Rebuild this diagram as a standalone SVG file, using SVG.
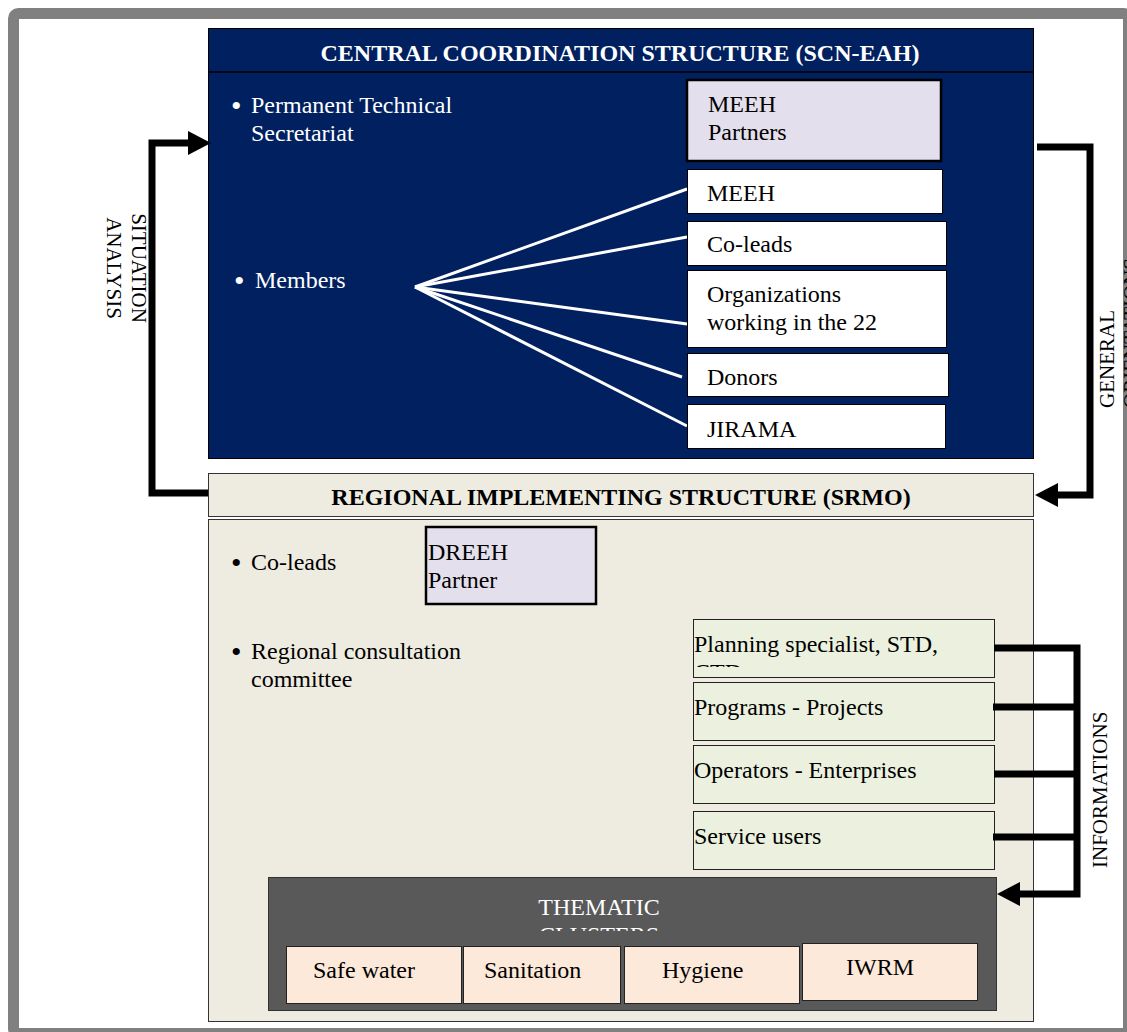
<svg xmlns="http://www.w3.org/2000/svg" width="1127" height="1032" viewBox="0 0 1127 1032">
<defs>
<style>
text{font-family:"Liberation Serif","Times New Roman",serif;font-size:24px;fill:#000}
.w{fill:#fff}
.b{font-weight:bold}
.bul{font-size:30px}
.rot{font-size:21px}
.box{stroke:#000;stroke-width:1}
.white{fill:#fff}
.lav{fill:#e4dfec;stroke:#000;stroke-width:2.5}
.green{fill:#ebf1de;stroke:#222;stroke-width:1}
.peach{fill:#fde9d9;stroke:#222;stroke-width:1}
.conn{fill:none;stroke:#000;stroke-width:7}
.mem{stroke:#fff;stroke-width:3}
</style>
<marker id="ah" markerUnits="userSpaceOnUse" markerWidth="24" markerHeight="24" refX="1" refY="12" orient="auto">
<path d="M0,0 L23,12 L0,24 z" fill="#000"/>
</marker>
<clipPath id="cpPlan"><rect x="693" y="619" width="301" height="48"/></clipPath>
<clipPath id="cpThem"><rect x="268" y="877" width="728" height="54"/></clipPath>
</defs>

<rect x="13.5" y="13.5" width="1115" height="1020" rx="5" fill="#fff" stroke="#808080" stroke-width="11"/>

<g id="central">
<rect x="208.5" y="28.5" width="825" height="430" fill="#002060" stroke="#000"/>
<line x1="208.5" y1="72" x2="1033.5" y2="72" stroke="#000" stroke-width="1.5"/>
<text class="w b" x="620" y="61" text-anchor="middle">CENTRAL COORDINATION STRUCTURE (SCN-EAH)</text>
<text class="w bul" x="231" y="116">•</text>
<text class="w" x="251" y="113">Permanent Technical</text>
<text class="w" x="251" y="141">Secretariat</text>
<text class="w bul" x="234" y="291">•</text>
<text class="w" x="255" y="288">Members</text>
</g>

<g id="meeh-partners">
<rect class="lav" x="687" y="80" width="254" height="81"/>
<text x="708" y="112">MEEH</text>
<text x="708" y="140">Partners</text>
</g>

<g id="member-lines">
<line class="mem" x1="415" y1="287" x2="687" y2="189"/>
<line class="mem" x1="415" y1="287" x2="687" y2="237"/>
<line class="mem" x1="415" y1="287" x2="687" y2="324"/>
<line class="mem" x1="415" y1="287" x2="682" y2="377"/>
<line class="mem" x1="415" y1="287" x2="687" y2="426"/>
</g>

<g id="m-meeh"><rect class="white box" x="687.5" y="169.5" width="255" height="44"/><text x="707" y="201">MEEH</text></g>
<g id="m-coleads"><rect class="white box" x="687.5" y="221.5" width="259" height="44"/><text x="707" y="252">Co-leads</text></g>
<g id="m-orgs"><rect class="white box" x="687.5" y="270.5" width="259" height="77"/><text x="707" y="302">Organizations</text><text x="707" y="330">working in the 22</text></g>
<g id="m-donors"><rect class="white box" x="687.5" y="353.5" width="261" height="43"/><text x="707" y="385">Donors</text></g>
<g id="m-jirama"><rect class="white box" x="687.5" y="404.5" width="258" height="44"/><text x="707" y="437">JIRAMA</text></g>

<g id="srmo-header">
<rect x="208.5" y="473.5" width="825" height="43" fill="#eeece1" stroke="#333"/>
<text class="b" x="621" y="505" text-anchor="middle">REGIONAL IMPLEMENTING STRUCTURE (SRMO)</text>
</g>

<g id="srmo-body">
<rect x="208.5" y="519.5" width="825" height="502" fill="#eeece1" stroke="#333"/>
<text class="bul" x="231" y="573">•</text>
<text x="251" y="570">Co-leads</text>
<text class="bul" x="231" y="662">•</text>
<text x="251" y="659">Regional consultation</text>
<text x="251" y="687">committee</text>
</g>

<g id="dreeh">
<rect class="lav" x="426" y="527" width="170" height="77"/>
<text x="428" y="560">DREEH</text>
<text x="428" y="588">Partner</text>
</g>

<g id="planning">
<rect class="green" x="693.5" y="619.5" width="301" height="58"/>
<g clip-path="url(#cpPlan)"><text x="694" y="652">Planning specialist, STD,</text><text x="694" y="680">CTD</text></g>
</g>
<g id="programs"><rect class="green" x="693.5" y="682.5" width="301" height="58"/><text x="694" y="715">Programs - Projects</text></g>
<g id="operators"><rect class="green" x="693.5" y="745.5" width="301" height="58"/><text x="694" y="778">Operators - Enterprises</text></g>
<g id="users"><rect class="green" x="693.5" y="811.5" width="301" height="58"/><text x="694" y="844">Service users</text></g>

<g id="thematic">
<rect x="268.5" y="877.5" width="728" height="133" fill="#595959" stroke="#333"/>
<g clip-path="url(#cpThem)"><text class="w" x="599" y="915" text-anchor="middle">THEMATIC</text><text class="w" x="599" y="943" text-anchor="middle">CLUSTERS</text></g>
</g>
<g id="safe-water"><rect class="peach" x="286.5" y="946.5" width="175" height="57"/><text x="313" y="978">Safe water</text></g>
<g id="sanitation"><rect class="peach" x="463.5" y="946.5" width="157" height="57"/><text x="484" y="978">Sanitation</text></g>
<g id="hygiene"><rect class="peach" x="624.5" y="946.5" width="175" height="57"/><text x="662" y="978">Hygiene</text></g>
<g id="iwrm"><rect class="peach" x="802.5" y="943.5" width="175" height="57"/><text x="846" y="975">IWRM</text></g>

<g id="connectors">
<path class="conn" d="M208,493 H152 V143 H189" marker-end="url(#ah)"/>
<path class="conn" d="M1037,147 H1090 V495 H1057" marker-end="url(#ah)"/>
<path class="conn" d="M994,648 H1077 V894 H1019" marker-end="url(#ah)"/>
<path class="conn" d="M993,707 H1077 M994,774 H1077 M993,837 H1077"/>
<text class="rot" transform="translate(132,268) rotate(90)" text-anchor="middle">SITUATION</text>
<text class="rot" transform="translate(107,268) rotate(90)" text-anchor="middle">ANALYSIS</text>
<text class="rot" transform="translate(1114,408) rotate(-90)">GENERAL</text>
<text class="rot" transform="translate(1138,408) rotate(-90)">ORIENTATIONS</text>
<text class="rot" transform="translate(1107,868) rotate(-90)">INFORMATIONS</text>
</g>
</svg>
